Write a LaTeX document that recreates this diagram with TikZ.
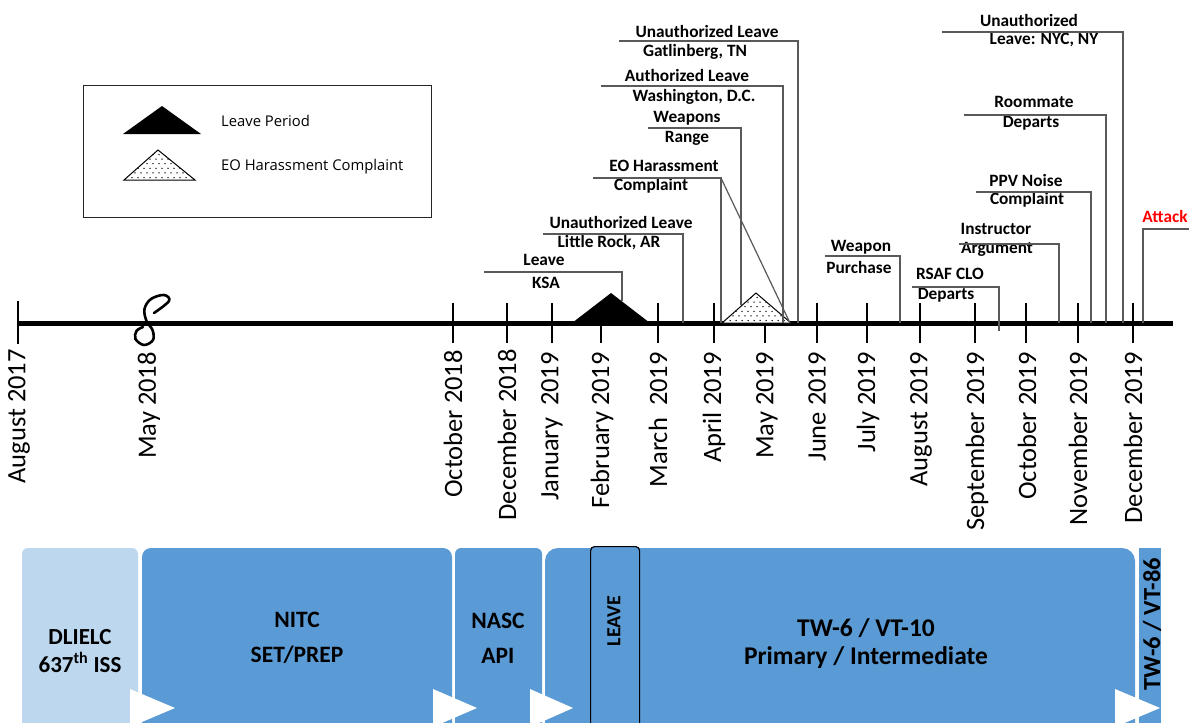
\documentclass[tikz,border=0pt]{standalone}
\usepackage{fontspec}
\setmainfont{Carlito}
\newfontfamily\legendfont{Open Sans}
\definecolor{barblue}{HTML}{5B9BD5}
\definecolor{barlight}{HTML}{BDD7EE}
\definecolor{leadgray}{HTML}{595959}
\definecolor{attackred}{HTML}{FF0000}

% dotted triangle: #1 left base x, #2 right base x, #3 apex x, #4 apex y, #5 base y
\newcommand\dottedtri[5]{%
  \fill[white] (#1,#5) -- (#3,#4) -- (#2,#5) -- cycle;
  \begin{scope}
    \clip (#1,#5) -- (#3,#4) -- (#2,#5) -- cycle;
    \foreach \j in {0,...,7}{
      \foreach \i in {0,...,14}{
        \fill ({#1+2+\i*6+3*mod(\j,2)},{#5-2.5-\j*4.6}) circle (0.75);
      }
    }
  \end{scope}
  \draw[line width=1pt, line join=miter] (#1,#5) -- (#3,#4) -- (#2,#5) -- cycle;
}

\begin{document}
\begin{tikzpicture}[x=1pt,y=-1pt,
  evt/.style={font=\fontsize{17.3}{19}\selectfont\bfseries, inner sep=0pt},
  lead/.style={draw=leadgray, line width=1.2pt},
  month/.style={font=\fontsize{26.5}{29}\selectfont, rotate=90, anchor=east, inner sep=0pt},
  axtick/.style={line width=2.6pt},
  legtxt/.style={font=\legendfont\fontsize{14.8}{17}\selectfont, anchor=west, inner sep=0pt},
  bartext/.style={font=\fontsize{23}{28}\selectfont\bfseries, align=center, inner sep=0pt},
  rottext/.style={font=\fontsize{20}{22}\selectfont\bfseries, rotate=90, inner sep=0pt},
  chevron/.style={fill=white},
]
\useasboundingbox (0,0) rectangle (1189,723);
\fill[white] (0,0) rectangle (1189,723);

% ---------------- legend ----------------
\node[draw=black!85, line width=1pt, minimum width=348pt, minimum height=132pt,
      anchor=north west, inner sep=0pt] (legend) at (83,85) {};
\fill (123,134) -- (162,106) -- (201,134) -- cycle;
\node[legtxt] (legLeave) at (221,121) {Leave Period};
\dottedtri{124}{195}{158}{150}{180}
\node[legtxt] (legEO) at (221,167) {EO Harassment Complaint};

% ---------------- time axis ----------------
\coordinate (axisL) at (18,323);
\coordinate (axisR) at (1173,323);
\foreach \x in {453,507,552,601,658,714,765,817,867,920,975,1026,1078,1133}
  \draw[axtick] (\x,303) -- (\x,343);
\draw[axtick] (18,301) -- (18,344);
\draw[line width=5pt] (axisL) -- (axisR);

% break mark
\draw[line width=2.6pt, line cap=round] plot[smooth, tension=0.6] coordinates
  {(154,313) (169,301) (164,295) (151,299) (144.5,309) (146.5,321) (152.5,330)
   (153,340) (144,345) (135.5,339) (136.5,331) (143,327)};

% month labels
\node[month] (mAug17) at (19,349) {August 2017};
\node[month] (mMay18) at (149,352) {May 2018};
\node[month] (mOct18) at (453,350) {October 2018};
\node[month] (mDec18) at (507,349) {December 2018};
\node[month] (mJan19) at (552,352) {January\ \ 2019};
\node[month] (mFeb19) at (602,352) {February 2019};
\node[month] (mMar19) at (658,352) {March\ \ 2019};
\node[month] (mApr19) at (714,352) {April 2019};
\node[month] (mMay19) at (767,352) {May 2019};
\node[month] (mJun19) at (817,352) {June 2019};
\node[month] (mJul19) at (868,352) {July 2019};
\node[month] (mAug19) at (921,352) {August 2019};
\node[month] (mSep19) at (977,352) {September 2019};
\node[month] (mOct19) at (1027,352) {October 2019};
\node[month] (mNov19) at (1078,352) {November 2019};
\node[month] (mDec19) at (1133,352) {December 2019};

% ---------------- period markers ----------------
\fill (572,323) -- (611,293) -- (650,323) -- cycle;
\dottedtri{722}{791}{756}{293}{323}

% ---------------- events ----------------
% Leave KSA
\node[evt] (ksaT) at (544,260) {Leave};
\node[evt] (ksaB) at (546,283) {KSA};
\coordinate (ksaL) at (484,272); \coordinate (ksaC) at (622,272); \coordinate (ksaE) at (622,301);
\draw[lead] (ksaL) -- (ksaC) -- (ksaE);

% Little Rock
\node[evt] (lrT) at (621,222) {Unauthorized Leave};
\node[evt] (lrB) at (609,243) {Little Rock, AR};
\coordinate (lrL) at (543,234); \coordinate (lrC) at (683,234); \coordinate (lrE) at (683,323);
\draw[lead] (lrL) -- (lrC) -- (lrE);

% EO complaint
\node[evt] (eoT) at (664,166) {EO Harassment};
\node[evt] (eoB) at (651,186) {Complaint};
\coordinate (eoL) at (593,178); \coordinate (eoC) at (721,178);
\coordinate (eoE) at (721,323); \coordinate (eoD) at (790,323);
\draw[lead] (eoL) -- (eoC) -- (eoE);
\draw[lead] (eoC) -- (eoD);

% Weapons range
\node[evt] (wrT) at (687,118) {Weapons};
\node[evt] (wrB) at (687,138) {Range};
\coordinate (wrL) at (648,128); \coordinate (wrC) at (741,128); \coordinate (wrE) at (741,305);
\draw[lead] (wrL) -- (wrC) -- (wrE);

% Washington
\node[evt] (dcT) at (687,75) {Authorized Leave};
\node[evt] (dcB) at (694,97) {Washington, D.C.};
\coordinate (dcL) at (601,86); \coordinate (dcC) at (783,86); \coordinate (dcE) at (783,323);
\draw[lead] (dcL) -- (dcC) -- (dcE);

% Gatlinberg
\node[evt] (gtT) at (707,31) {Unauthorized Leave};
\node[evt] (gtB) at (695,52) {Gatlinberg, TN};
\coordinate (gtL) at (619,41); \coordinate (gtC) at (798,41); \coordinate (gtE) at (798,323);
\draw[lead] (gtL) -- (gtC) -- (gtE);

% Weapon purchase
\node[evt] (wpT) at (861,247) {Weapon};
\node[evt] (wpB) at (859,267) {Purchase};
\coordinate (wpL) at (825,256); \coordinate (wpC) at (900,256); \coordinate (wpE) at (900,323);
\draw[lead] (wpL) -- (wpC) -- (wpE);

% RSAF CLO
\node[evt] (rsT) at (950,274) {RSAF CLO};
\node[evt] (rsB) at (946,295) {Departs};
\coordinate (rsL) at (912,287); \coordinate (rsC) at (999,287); \coordinate (rsE) at (999,331);
\draw[lead] (rsL) -- (rsC) -- (rsE);

% Instructor argument
\node[evt] (iaT) at (996,229) {Instructor};
\node[evt] (iaB) at (997,249) {Argument};
\coordinate (iaL) at (959,244); \coordinate (iaC) at (1059,244); \coordinate (iaE) at (1059,323);
\draw[lead] (iaL) -- (iaC) -- (iaE);

% PPV noise complaint
\node[evt] (ppT) at (1026,180) {PPV Noise};
\node[evt] (ppB) at (1027,200) {Complaint};
\coordinate (ppL) at (976,192); \coordinate (ppC) at (1091,192); \coordinate (ppE) at (1091,323);
\draw[lead] (ppL) -- (ppC) -- (ppE);

% Roommate departs
\node[evt] (rmT) at (1034,102) {Roommate};
\node[evt] (rmB) at (1031,123) {Departs};
\coordinate (rmL) at (964,115); \coordinate (rmC) at (1106,115); \coordinate (rmE) at (1106,323);
\draw[lead] (rmL) -- (rmC) -- (rmE);

% NYC
\node[evt] (nyT) at (1029,20) {Unauthorized};
\node[evt] (nyB) at (1044,40) {Leave: NYC, NY};
\coordinate (nyL) at (942,32); \coordinate (nyC) at (1123,32); \coordinate (nyE) at (1123,323);
\draw[lead] (nyL) -- (nyC) -- (nyE);

% Attack
\node[evt, text=attackred] (atT) at (1165,216) {Attack};
\coordinate (atR) at (1189,229); \coordinate (atC) at (1143,229); \coordinate (atE) at (1143,323);
\draw[lead] (atR) -- (atC) -- (atE);

% ---------------- training phases ----------------
\fill[barlight, rounded corners=6pt] (22,740) -- (22,548) -- (138,548) -- (138,740) -- cycle;
\fill[barblue, rounded corners=9pt] (142,740) -- (142,548) -- (452,548) -- (452,740) -- cycle;
\fill[barblue, rounded corners=6pt] (455,740) -- (455,548) -- (542,548) -- (542,740) -- cycle;
\fill[barblue, rounded corners=13pt] (545,740) -- (545,548) -- (1135,548) -- (1135,740) -- cycle;
\fill[barblue] (1139,548) rectangle (1161,740);
\node[draw=black, line width=1.2pt, fill=barblue, rounded corners=4pt,
      minimum width=49pt, minimum height=200pt, anchor=north west, inner sep=0pt]
      (leavebox) at (590,546) {};

\node[bartext] (dli) at (80,651) {DLIELC\\637\textsuperscript{th} ISS};
\node[bartext, font=\fontsize{23.5}{35}\selectfont\bfseries] (nitc) at (297,638) {NITC\\SET/PREP};
\node[bartext, font=\fontsize{23.5}{35}\selectfont\bfseries] (nasc) at (498,638) {NASC\\API};
\node[bartext, font=\fontsize{25.5}{28}\selectfont\bfseries] (tw10) at (866,644) {TW-6 / VT-10\\Primary / Intermediate};
\node[rottext] (leavetxt) at (614,621) {LEAVE};
\node[rottext, font=\fontsize{24.5}{26}\selectfont\bfseries] (tw86) at (1152,624) {TW-6 / VT-86};

% phase arrows
\fill[chevron] (130,689) -- (175,708) -- (130,727) -- cycle;
\fill[chevron] (433,689) -- (477,708) -- (433,727) -- cycle;
\fill[chevron] (530,689) -- (573,708) -- (530,727) -- cycle;
\fill[chevron] (1115,689) -- (1160,708) -- (1115,727) -- cycle;
\end{tikzpicture}
\end{document}
